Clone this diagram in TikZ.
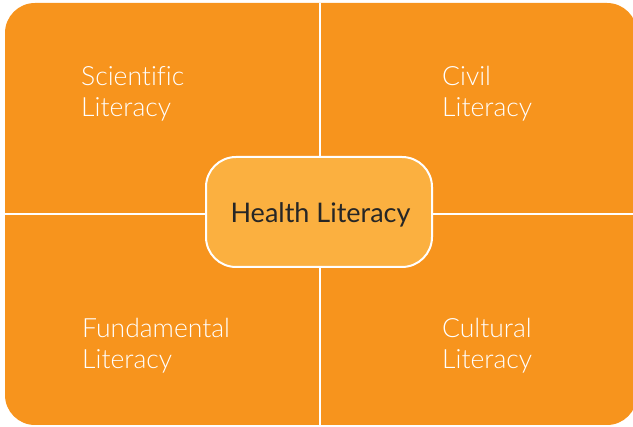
\documentclass[tikz,border=0pt]{standalone}
\usepackage{fontspec}
\setmainfont[Ligatures=NoCommon]{Lato Light}
\newfontfamily\centerfont{Lato}
\definecolor{litorange}{HTML}{F7941D}
\definecolor{litlight}{HTML}{FBB040}
\definecolor{littext}{HTML}{262626}

\begin{document}
\begin{tikzpicture}[x=1pt, y=-1pt,
    divider/.style={white, line width=2pt},
    quarter/.style={white, anchor=base west, align=left, inner sep=0pt,
        font=\fontsize{26.5}{31}\selectfont}]
        % corners and edges of the big box
        \coordinate (NW) at (5,3);
        \coordinate (SE) at (637,425);
        \coordinate (T) at (320,3);
        \coordinate (B) at (320,425);
        \coordinate (L) at (5,214);
        \coordinate (R) at (637,214);

        \useasboundingbox (0,0) rectangle (633,427);
        \fill[litorange, rounded corners=30pt] (NW) rectangle (SE);

        \node[draw=white, line width=2pt, fill=litlight, rounded corners=30pt,
            minimum width=226pt, minimum height=110pt, inner sep=0pt,
            text=littext, font=\centerfont\fontsize{27}{30}\selectfont]
            (health) at (319,212) {\hspace{3pt}\raisebox{-10.5pt}[0pt][0pt]{Health Literacy}};

        \draw[divider] (T) -- (T |- health.north);
        \draw[divider] (B |- health.south) -- (B);
        \draw[divider] (L) -- (L -| health.west);
        \draw[divider] (R -| health.east) -- (R);

        \node[quarter] (sci) at (81,117) {Scientific\\Literacy};
        \node[quarter] (civ) at (442,117) {Civil\\Literacy};
        \node[quarter] (fun) at (82,369) {Fundamental\\Literacy};
        \node[quarter] (cul) at (442,369) {Cultural\\Literacy};
\end{tikzpicture}
\end{document}
